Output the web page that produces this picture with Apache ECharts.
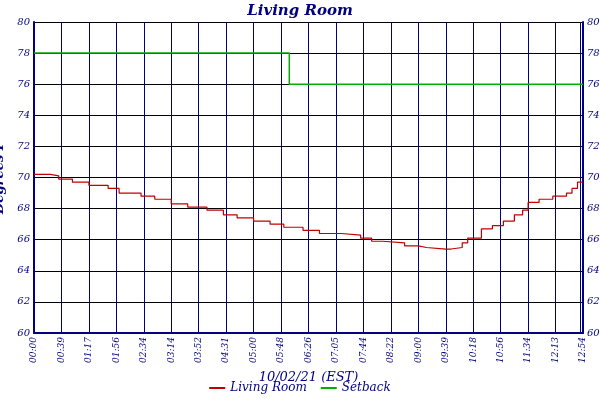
<!DOCTYPE html>
<html><head><meta charset="utf-8">
<script src="https://cdn.jsdelivr.net/npm/echarts@6/dist/echarts.min.js"></script>
<style>html,body{margin:0;padding:0;background:#fff}#c{width:600px;height:400px}</style>
</head><body><div id="c"></div>
<script>
var tickIdx = [0,10,20,30,40,50,60,70,80,90,100,110,120,130,140,150,160,170,180,190,199,200];
var tickLabels = ['00:00','00:39','01:17','01:56','02:34','03:14','03:52','04:31','05:00','05:48','06:26','07:05','07:44','08:22','09:00','09:39','10:18','10:56','11:34','12:13','12:52','12:54'];
var roomIdx = [0,6,9,14,20,27,31,39,44,50,56,63,69,74,80,86,91,98,104,112,119,123,127,135,140,143,150,152,156,158,163,167,171,175,178,180,184,189,194,196,198,200];
var roomVal = [70.2,70.1,69.9,69.7,69.5,69.3,69.0,68.8,68.6,68.3,68.1,67.9,67.6,67.4,67.2,67.0,66.8,66.6,66.4,66.3,66.1,65.9,65.8,65.6,65.5,65.4,65.4,65.5,65.8,66.1,66.7,66.9,67.2,67.6,67.9,68.4,68.6,68.8,69.0,69.3,69.7,69.7];
var setIdx = [0,93,200];
var setVal = [78,76,76];
function pairs(a,b){return a.map(function(x,i){return [x,b[i]];});}
var navy='#000080', font='DejaVu Serif';
var lbl = {};
tickIdx.forEach(function(v,i){lbl[v]=tickLabels[i];});
var chart = echarts.init(document.getElementById('c'));
var yax = function(pos){return {type:'value',position:pos,min:60,max:80,interval:2,
  axisLine:{show:true,lineStyle:{color:navy,width:2}},axisTick:{show:false},
  splitLine:{show:pos==='left',lineStyle:{color:'#000000',width:1}},
  axisLabel:{color:navy,fontFamily:font,fontStyle:'italic',fontSize:10,margin:4},
  name:pos==='left'?'Degrees F':'',nameLocation:'middle',nameGap:22,
  nameTextStyle:{color:navy,fontFamily:font,fontStyle:'italic',fontWeight:'bold',fontSize:13}};};
chart.setOption({
  animation:false,
  title:{text:'Living Room',left:'center',top:-1,textStyle:{color:navy,fontFamily:font,fontStyle:'italic',fontWeight:'bold',fontSize:15}},
  legend:{bottom:1,itemWidth:16,itemHeight:2,icon:'rect',itemGap:14,textStyle:{color:navy,fontFamily:font,fontStyle:'italic',fontSize:12},data:['Living Room','Setback']},
  grid:{left:34,right:17,top:22,bottom:67,outerBoundsMode:'none',containLabel:false},
  xAxis:{type:'value',min:0,max:200,
    name:'10/02/21 (EST)',nameLocation:'middle',nameGap:38,
    nameTextStyle:{color:navy,fontFamily:font,fontStyle:'italic',fontSize:13},
    axisLine:{lineStyle:{color:navy,width:2}},
    axisTick:{show:false,customValues:tickIdx},
    splitLine:{show:true,lineStyle:{color:navy,width:1}},
    axisLabel:{customValues:tickIdx,rotate:90,color:navy,fontFamily:font,fontStyle:'italic',fontSize:9,margin:4,hideOverlap:false,showMaxLabel:true,showMinLabel:true,
      formatter:function(v){return lbl[v]||'';}}},
  yAxis:[yax('left'),yax('right')],
  series:[
    {name:'Living Room',type:'line',step:'end',showSymbol:false,data:pairs(roomIdx,roomVal),lineStyle:{color:'#c00000',width:1.2},itemStyle:{color:'#c00000'}},
    {name:'Setback',type:'line',step:'end',showSymbol:false,data:pairs(setIdx,setVal),lineStyle:{color:'#00b000',width:1.5},itemStyle:{color:'#00b000'}}
  ]
});
</script></body></html>
